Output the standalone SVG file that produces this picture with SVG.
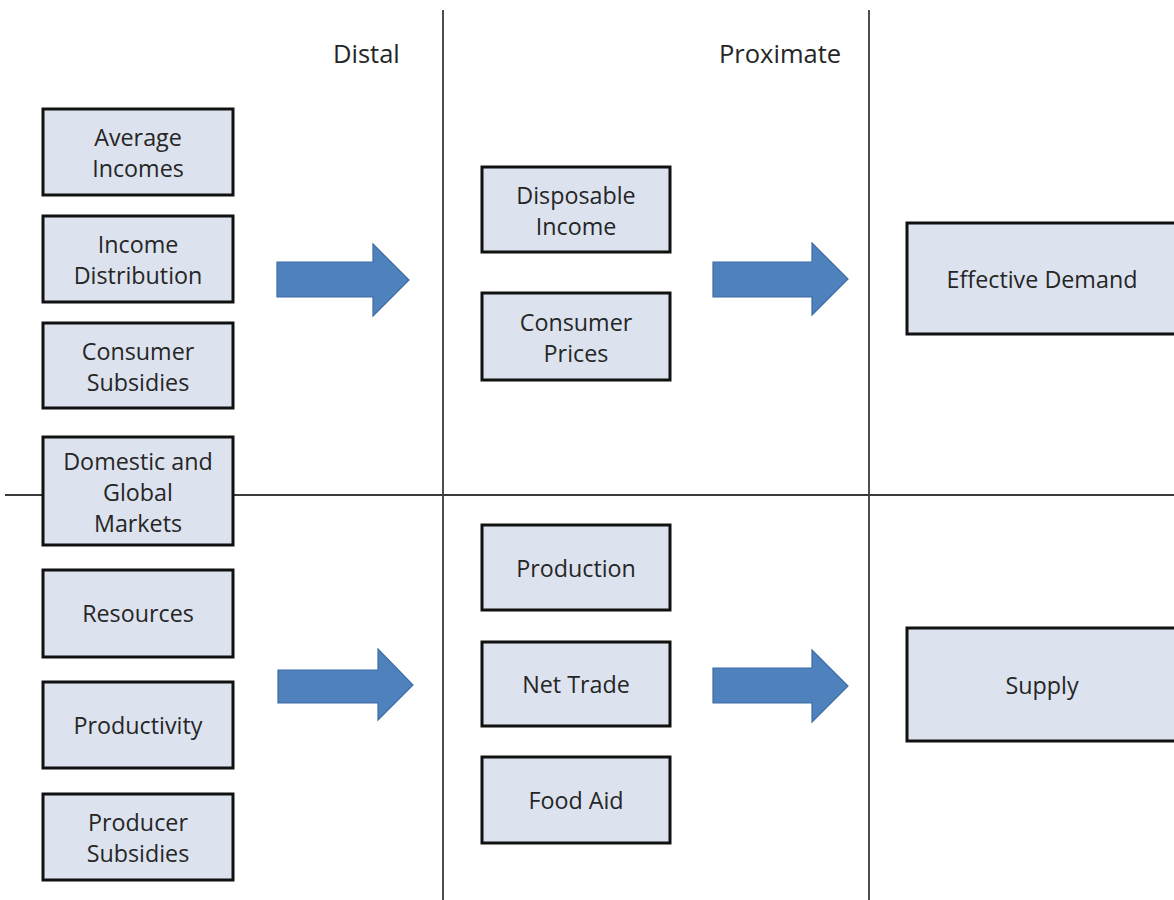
<svg xmlns="http://www.w3.org/2000/svg" width="1174" height="900" viewBox="0 0 1174 900">
<style>
.bg{fill:#ffffff}
.grid line{stroke:#3a3a3a;stroke-width:1.8}
.box{fill:#dce3ef;stroke:#111111;stroke-width:3}
.arrow{fill:#4f81bd;stroke:#3d6da6;stroke-width:1.2}
text{font-family:"Open Sans","Liberation Sans",sans-serif;font-size:23.3px;fill:#262626;text-anchor:middle}
.hdr{text-anchor:start;font-size:25.5px}
</style>
<rect class="bg" x="0" y="0" width="1174" height="900"/>
<g id="grid" class="grid">
<line x1="443" y1="10" x2="443" y2="900"/>
<line x1="869" y1="10" x2="869" y2="900"/>
<line x1="5" y1="495" x2="1174" y2="495"/>
</g>
<g id="headers">
<text class="hdr" x="333" y="63">Distal</text>
<text class="hdr" x="719" y="63">Proximate</text>
</g>
<g id="connectors">
<polygon class="arrow" points="277,262 373,262 373,244 409,280 373,316 373,297 277,297"/>
<polygon class="arrow" points="278,670 378,670 378,649 413,685 378,720 378,703 278,703"/>
<polygon class="arrow" points="713,262 812,262 812,243 848,279 812,315 812,297 713,297"/>
<polygon class="arrow" points="713,668 812,668 812,650 848,686 812,722 812,703 713,703"/>
</g>
<g id="n-average-incomes"><rect class="box" x="43" y="109" width="190" height="86"/><text x="138" y="146">Average</text><text x="138" y="177">Incomes</text></g>
<g id="n-income-distribution"><rect class="box" x="43" y="216" width="190" height="86"/><text x="138" y="253">Income</text><text x="138" y="284">Distribution</text></g>
<g id="n-consumer-subsidies"><rect class="box" x="43" y="323" width="190" height="85"/><text x="138" y="360">Consumer</text><text x="138" y="391">Subsidies</text></g>
<g id="n-domestic-global-markets"><rect class="box" x="43" y="437" width="190" height="108"/><text x="138" y="470">Domestic and</text><text x="138" y="501">Global</text><text x="138" y="532">Markets</text></g>
<g id="n-resources"><rect class="box" x="43" y="570" width="190" height="87"/><text x="138" y="622">Resources</text></g>
<g id="n-productivity"><rect class="box" x="43" y="682" width="190" height="86"/><text x="138" y="734">Productivity</text></g>
<g id="n-producer-subsidies"><rect class="box" x="43" y="794" width="190" height="86"/><text x="138" y="831">Producer</text><text x="138" y="862">Subsidies</text></g>
<g id="n-disposable-income"><rect class="box" x="482" y="167" width="188" height="85"/><text x="576" y="204">Disposable</text><text x="576" y="235">Income</text></g>
<g id="n-consumer-prices"><rect class="box" x="482" y="293" width="188" height="87"/><text x="576" y="331">Consumer</text><text x="576" y="362">Prices</text></g>
<g id="n-production"><rect class="box" x="482" y="525" width="188" height="85"/><text x="576" y="577">Production</text></g>
<g id="n-net-trade"><rect class="box" x="482" y="642" width="188" height="84"/><text x="576" y="693">Net Trade</text></g>
<g id="n-food-aid"><rect class="box" x="482" y="757" width="188" height="86"/><text x="576" y="809">Food Aid</text></g>
<g id="n-effective-demand"><rect class="box" x="907" y="223" width="275" height="111"/><text x="1042" y="288">Effective Demand</text></g>
<g id="n-supply"><rect class="box" x="907" y="628" width="275" height="113"/><text x="1042" y="694">Supply</text></g>
</svg>
